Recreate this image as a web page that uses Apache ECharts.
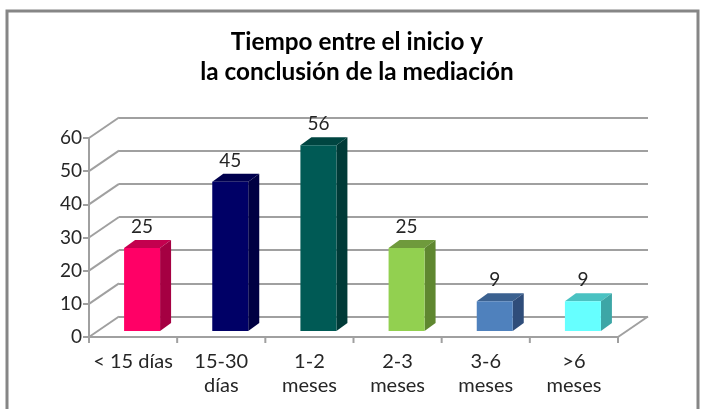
<!DOCTYPE html>
<html><head><meta charset="utf-8">
<style>html,body{margin:0;padding:0;background:#fff}#c{width:702px;height:409px}</style>
<script src="https://cdn.jsdelivr.net/npm/echarts@6/dist/echarts.min.js"></script>
</head><body><div id="c"></div>
<script>
const categories = ['< 15 días', '15-30\ndías', '1-2\nmeses', '2-3\nmeses', '3-6\nmeses', '>6\nmeses'];
const values = [25, 45, 56, 25, 9, 9];
const yTicks = [0, 10, 20, 30, 40, 50, 60];
const frontColors = ['#FF0066', '#000066', '#005A55', '#92D050', '#4F81BD', '#66FFFF'];
const sideColors = ['#A50042', '#000042', '#003A37', '#5F8730', '#2F4D7A', '#3DA6A6'];
const topColors = ['#C3004E', '#00004E', '#004541', '#6F9A3C', '#3B6190', '#4AC2C2'];
const titleText = 'Tiempo entre el inicio y\nla conclusión de la mediación';

const font = 'Lato, sans-serif';
const gridColor = '#A0A0A0';
const F = {l: 89, r: 618, t: 138, b: 337};
const D = {x: 30, y: -20.5};
const chart = echarts.init(document.getElementById('c'), null, {renderer: 'canvas'});

function renderWall(params, api) {
  const v = api.value(0);
  const band = api.size([1, 0])[0];
  const last = api.value(1);
  const p = api.coord([last ? categories.length - 1 : 0, v]);
  const x = p[0] + (last ? band / 2 : -band / 2);
  return {type: 'line', silent: true,
    shape: {x1: x, y1: p[1], x2: x + D.x, y2: p[1] + D.y},
    style: {stroke: gridColor, lineWidth: 2}};
}
function renderTick(params, api) {
  const band = api.size([1, 0])[0];
  const p = api.coord([api.value(0), 0]);
  const x = p[0] + band / 2;
  return {type: 'line', silent: true,
    shape: {x1: x, y1: p[1], x2: x, y2: p[1] + 6},
    style: {stroke: gridColor, lineWidth: 2}};
}
function renderBar(params, api) {
  const i = api.value(0), v = api.value(1);
  const c = api.coord([i, v]), o = api.coord([i, 0]);
  const w = 36, sx = 11, sy = -8, ox = 9, oy = -6;
  const x0 = c[0] + ox - w / 2, x1 = x0 + w, yt = c[1] + oy, yb = o[1] + oy;
  return {type: 'group', children: [
    {type: 'polygon', shape: {points: [[x0, yt], [x1, yt], [x1 + sx, yt + sy], [x0 + sx, yt + sy]]}, style: {fill: topColors[i]}},
    {type: 'polygon', shape: {points: [[x1, yt], [x1 + sx, yt + sy], [x1 + sx, yb + sy], [x1, yb]]}, style: {fill: sideColors[i]}},
    {type: 'rect', shape: {x: x0, y: yt, width: w, height: yb - yt}, style: {fill: frontColors[i]}},
    {type: 'text', style: {text: String(v), x: x0 + w / 2, y: yt + sy - 13, align: 'center', verticalAlign: 'middle',
      fill: '#262626', font: '19px ' + font}}
  ]};
}
chart.setOption({
  animation: false,
  backgroundColor: '#fff',
  title: {text: titleText, left: 352, top: 22, textAlign: 'center',
    textStyle: {fontFamily: font, fontWeight: 'bold', fontSize: 24.3, lineHeight: 30, color: '#000'}},
  graphic: [{type: 'rect', z: 0, silent: true, shape: {x: 7, y: 11, width: 691, height: 420},
    style: {fill: 'none', stroke: '#868686', lineWidth: 3}}],
  grid: [
    {left: F.l, right: 702 - F.r, top: F.t, bottom: 409 - F.b},
    {left: F.l + D.x, right: 702 - F.r - D.x, top: F.t + D.y, bottom: 409 - F.b - D.y}
  ],
  xAxis: [
    {type: 'category', gridIndex: 0, data: categories,
      axisLine: {lineStyle: {color: gridColor, width: 2}},
      axisTick: {show: false},
      axisLabel: {interval: 0, color: '#262626', fontFamily: font, fontSize: 20, lineHeight: 24, margin: 13}},
    {type: 'category', gridIndex: 1, data: categories, show: false}
  ],
  yAxis: [
    {type: 'value', gridIndex: 0, min: 0, max: 60, interval: 10,
      axisLine: {show: true, lineStyle: {color: gridColor, width: 2}},
      axisTick: {show: true, length: 6, lineStyle: {color: gridColor, width: 2}},
      splitLine: {show: false},
      axisLabel: {color: '#262626', fontFamily: font, fontSize: 19, margin: 7}},
    {type: 'value', gridIndex: 1, min: 0, max: 60, interval: 10,
      axisLine: {show: false}, axisTick: {show: false}, axisLabel: {show: false},
      splitLine: {show: true, lineStyle: {color: gridColor, width: 2}}}
  ],
  series: [
    {type: 'custom', xAxisIndex: 0, yAxisIndex: 0, z: 1, silent: true,
      data: yTicks.map(v => [v, 0]).concat([[0, 1]]), renderItem: renderWall, encode: {y: 0}},
    {type: 'custom', xAxisIndex: 0, yAxisIndex: 0, z: 1, silent: true,
      data: categories.map((c, i) => [i]).concat([[-1]]), renderItem: renderTick, encode: {x: 0}},
    {type: 'custom', xAxisIndex: 0, yAxisIndex: 0, z: 5, silent: true,
      data: values.map((v, i) => [i, v]), renderItem: renderBar, encode: {x: 0, y: 1}}
  ]
});
</script></body></html>
